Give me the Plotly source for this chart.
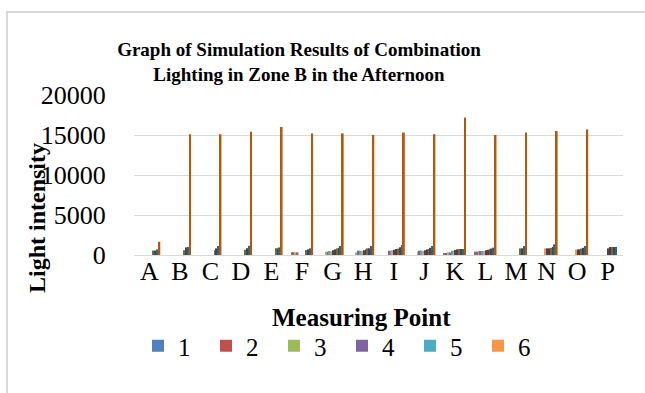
import plotly.graph_objects as go

categories = ["A", "B", "C", "D", "E", "F", "G", "H", "I", "J", "K", "L", "M", "N", "O", "P"]
series_names = [str(i) for i in range(1, 13)]

# values per measuring point, series 1..12
values_by_point = {
    "A": [0, 0, 0, 0, 0, 0, 0, 0, 550, 550, 700, 1650],
    "B": [0, 0, 0, 0, 0, 0, 0, 0, 600, 950, 1000, 15100],
    "C": [0, 0, 0, 0, 0, 0, 0, 0, 600, 830, 1125, 15100],
    "D": [0, 0, 0, 0, 0, 0, 0, 0, 650, 850, 1150, 15400],
    "E": [0, 0, 0, 0, 0, 0, 0, 0, 850, 850, 950, 16000],
    "F": [330, 330, 330, 330, 0, 0, 0, 0, 620, 700, 830, 15200],
    "G": [0, 0, 420, 420, 500, 450, 600, 700, 830, 900, 1125, 15200],
    "H": [0, 0, 330, 540, 540, 500, 600, 700, 830, 830, 1125, 15000],
    "I": [0, 0, 0, 540, 540, 600, 650, 750, 800, 960, 1250, 15300],
    "J": [0, 0, 420, 540, 540, 500, 600, 700, 750, 900, 1125, 15100],
    "K": [210, 210, 330, 330, 540, 540, 625, 700, 750, 750, 750, 17200],
    "L": [420, 420, 500, 500, 500, 500, 600, 650, 750, 800, 920, 15000],
    "M": [0, 0, 0, 0, 0, 0, 0, 0, 830, 830, 1125, 15300],
    "N": [0, 0, 0, 0, 0, 830, 830, 830, 900, 1000, 1330, 15500],
    "O": [0, 0, 0, 0, 0, 700, 700, 700, 800, 900, 1125, 15700],
    "P": [0, 0, 0, 0, 0, 0, 830, 1000, 1000, 1000, 1000, 0],
}

colors = ["#4F81BD", "#C0504D", "#9BBB59", "#8064A2", "#4BACC6", "#F79646",
          "#2C4D75", "#772C2A", "#5F7530", "#4D3B62", "#276A7C", "#B65708"]

y_ticks = [0, 5000, 10000, 15000, 20000]

FONT = "'Liberation Serif', 'Times New Roman', 'DejaVu Serif', serif"

fig = go.Figure()
for i, name in enumerate(series_names):
    fig.add_trace(go.Bar(
        x=categories,
        y=[values_by_point[c][i] for c in categories],
        name=name,
        marker=dict(color=colors[i], line=dict(width=0)),
        showlegend=i < 6,
    ))

L, R, T, B = 134, 22, 95, 138
W, H = 645, 393
pw, ph = W - L - R, H - T - B

def px(x):
    return (x - L) / pw

def py(y):
    return (H - B - y) / ph

fig.update_layout(
    width=W, height=H,
    margin=dict(l=L, r=R, t=T, b=B),
    paper_bgcolor="white", plot_bgcolor="white",
    barmode="group", bargap=0.28, bargroupgap=0,
    font=dict(family=FONT, color="#000000"),
    title=dict(
        text="<b>Graph of Simulation Results of Combination<br>Lighting in Zone B in the Afternoon</b>",
        font=dict(family=FONT, size=19, color="#000000"),
        xref="container", yref="container",
        x=299 / W, xanchor="center", y=1 - 56 / H, yanchor="middle",
    ),
    xaxis=dict(
        showgrid=False, showline=True, linecolor="#d9d9d9", linewidth=1,
        tickmode="array", tickvals=categories, ticktext=categories,
        tickfont=dict(family=FONT, size=26, color="#000000"),
        ticks="", ticklen=0, ticklabelstandoff=-7,
    ),
    yaxis=dict(
        range=[0, 20000], tickvals=y_ticks, ticktext=[str(v) for v in y_ticks],
        showgrid=True, gridcolor="#d9d9d9", gridwidth=1,
        zeroline=False, showline=False,
        tickfont=dict(family=FONT, size=26, color="#000000"),
        ticks="outside", ticklen=22, tickcolor="rgba(0,0,0,0)",
    ),
    legend=dict(
        orientation="h", x=px(138), xanchor="left", y=py(346), yanchor="middle",
        font=dict(family=FONT, size=25, color="#000000"),
        entrywidth=23, entrywidthmode="pixels",
        bgcolor="rgba(0,0,0,0)", tracegroupgap=0,
    ),
    annotations=[
        dict(text="<b>Measuring Point</b>", x=px(361), y=py(317), xref="paper", yref="paper",
             showarrow=False, font=dict(family=FONT, size=25, color="#000000"),
             xanchor="center", yanchor="middle"),
        dict(text="<b>Light intensity</b>", x=px(37), y=py(218), xref="paper", yref="paper",
             showarrow=False, textangle=-90, font=dict(family=FONT, size=24, color="#000000"),
             xanchor="center", yanchor="middle"),
    ],
    shapes=[
        dict(type="rect", xref="paper", yref="paper",
             x0=px(7), x1=px(660), y0=py(410), y1=py(12),
             line=dict(color="#d9d9d9", width=2), layer="below"),
    ],
)

fig.write_html("out.html")
